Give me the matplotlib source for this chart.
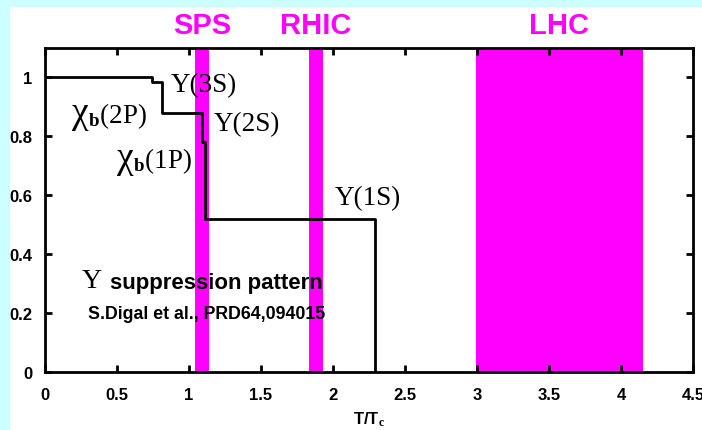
import matplotlib
matplotlib.use("Agg")
import matplotlib.pyplot as plt
from matplotlib.patches import Rectangle

#--------------------------------------------------------------------------------------
#Data
step_T=[0,0.74,0.815,1.088,1.109,2.29]
step_S=[1.0,0.985,0.88,0.78,0.52,0.0]
band_names=["SPS","RHIC","LHC"]
band_lo=[1.04,1.83,2.99]
band_hi=[1.14,1.93,4.15]
xticks=[0,0.5,1,1.5,2,2.5,3,3.5,4,4.5]
yticks=[0,0.2,0.4,0.6,0.8,1]
ups_names=["Υ(3S)","Υ(2S)","Υ(1S)"]
ups_T=[1.10,1.40,2.245]
ups_S=[0.952,0.820,0.571]
chi_names=["(2P)","(1P)"]
chi_T=[0.299,0.611]
chi_S=[0.850,0.697]

#--------------------------------------------------------------------------------------
#Style
plt.rcParams['mathtext.fontset']='custom'
plt.rcParams['mathtext.rm']='Liberation Serif'
plt.rcParams['mathtext.it']='Liberation Serif'
plt.rcParams['mathtext.bf']='Liberation Serif:bold'
sans='Liberation Sans'
serif='Liberation Serif'
mag='#ff00ff'

fig=plt.figure(figsize=(7.02,4.31),dpi=100,facecolor='#ccffff')
fig.patches.append(Rectangle((10/702,0),1-10/702,423/431,transform=fig.transFigure,
                             facecolor='white',edgecolor='none',zorder=-5))
ax=fig.add_axes([45/702,1-373/431,648/702,324/431])
ax.set_zorder(2)
ax.set_xlim(0,4.5)
ax.set_ylim(0,1.1)

for lo,hi,name in zip(band_lo,band_hi,band_names):
    ax.axvspan(lo,hi,color=mag,lw=0,zorder=1)
    ax.text((lo+hi)/2,1.150,name,color=mag,fontsize=21,fontweight='bold',family=sans,
            ha='center',va='baseline')

# step curve, ends dropping to zero
xs=[]
ys=[]
for i in range(len(step_T)-1):
    xs+=[step_T[i],step_T[i+1]]
    ys+=[step_S[i],step_S[i]]
xs.append(step_T[-1])
ys.append(step_S[-1])
ax.plot(xs,ys,color='black',lw=2,zorder=3)

ax.set_xticks(xticks)
ax.set_xticklabels([("%g"%v) for v in xticks],fontsize=12,fontweight='bold',family=sans)
ax.set_yticks(yticks)
ax.set_yticklabels([("%g"%v) for v in yticks],fontsize=12,fontweight='bold',family=sans)
ax.tick_params(direction='in',length=5,width=2,top=True,right=True)
ax.tick_params(axis='x',pad=11)
ax.tick_params(axis='y',pad=9)
for s in ax.spines.values():
    s.set_linewidth(2)
    s.set_zorder(4)

for name,t,s in zip(ups_names,ups_T,ups_S):
    ax.text(t,s,name,fontsize=19.5,family=serif,ha='center',va='baseline',zorder=5)
for name,t,s in zip(chi_names,chi_T,chi_S):
    ax.text(t,s,"χ",fontsize=27,family=serif,ha='right',va='baseline',zorder=5)
    ax.text(t,s,r"${}_{\mathbf{b}}$"+name,fontsize=19.5,family=serif,ha='left',va='baseline',zorder=5)

ax.text(0.257,0.31,"Υ",fontsize=20,family=serif,ha='left',va='center',zorder=5)
ax.text(0.451,0.305,"suppression pattern",fontsize=16,family=sans,fontweight='bold',
        ha='left',va='center',zorder=5)
ax.text(0.30,0.197,"S.Digal et al., PRD64,094015",fontsize=12.8,family=sans,fontweight='bold',
        ha='left',va='center',zorder=5)

ax.set_xlabel(r"T/T$_\mathbf{c}$",fontsize=12,fontweight='bold',family=sans,labelpad=5)

plt.savefig("out.png",dpi=100,facecolor=fig.get_facecolor())
